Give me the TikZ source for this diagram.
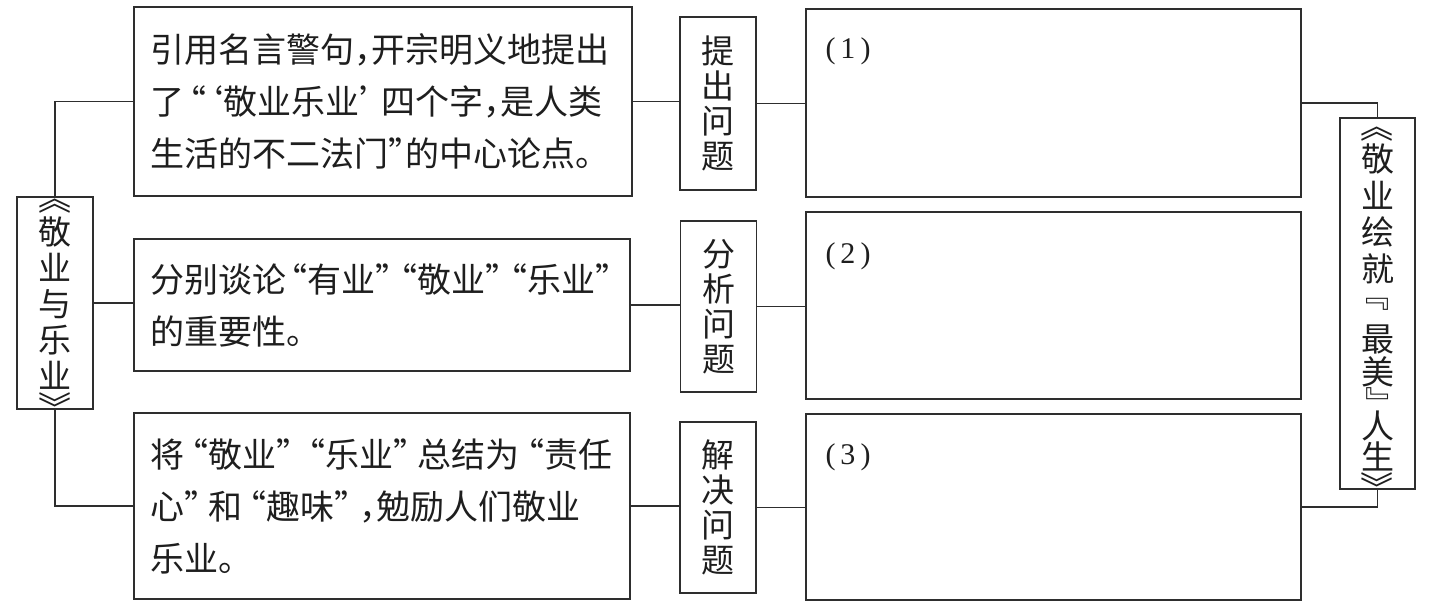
\documentclass[tikz,border=0pt]{standalone}
\usepackage{fontspec}
\usepackage{graphicx}
\setmainfont{Noto Sans CJK SC}
\newfontfamily\hfont[RawFeature=+halt]{Noto Sans CJK SC}
\newfontfamily\numfont{Liberation Serif}
\definecolor{ln}{HTML}{2E2E2E}
\definecolor{tx}{HTML}{1E1E1E}
\newcommand{\LQ}{\kern.12em“}
\newcommand{\RQ}{”\kern.12em}
\newcommand{\LQw}{\kern.22em“}
\newcommand{\RQw}{”\kern.22em}
% vertical brackets: glyph sits from about 0.5pt to 14.5pt above the baseline
\newcommand{\vob}[1][15pt]{\raisebox{\dimexpr\depth-0.8pt\relax}[#1][0pt]{\rotatebox[origin=c]{-90}{《}}}
\newcommand{\vcb}{\raisebox{\dimexpr\depth-17.3pt\relax}[15pt][0pt]{\rotatebox[origin=c]{-90}{》}}}
\newcommand{\vocb}{\raisebox{\dimexpr\depth-0.8pt\relax}[13pt][0pt]{\rotatebox[origin=c]{-90}{『}\kern.18em}}
\newcommand{\vccb}{\raisebox{\dimexpr\depth-19.3pt\relax}[13pt][0pt]{\rotatebox[origin=c]{-90}{』}}}
\begin{document}
\begin{tikzpicture}[x=1pt,y=-1pt,
  box/.style={draw=ln, line width=1.6pt, inner sep=0pt, rectangle, text=tx},
  txtbox/.style={box, align=left, inner xsep=16pt, font=\hfont\fontsize{34}{52}\selectfont},
  vbox/.style={box, align=center, font=\fontsize{33}{36}\selectfont},
  stepbox/.style={box, align=center, minimum width=76pt, font=\fontsize{33}{35}\selectfont},
  emptybox/.style={box, minimum width=495pt},
  num/.style={text=tx, inner sep=0pt, font=\numfont\fontsize{30}{30}\selectfont},
  conn/.style={draw=ln, line width=1.4pt}]
\useasboundingbox[fill=white] (0,0) rectangle (1437,610);

% left title box
\node[vbox, minimum width=76pt, minimum height=212pt] (L) at (55,303)
  {\vob\\[-6pt]敬\\业\\与\\乐\\业\\[-17pt]\vcb};

% left text boxes
\node[txtbox, text width=466pt, minimum height=189pt] (B1) at (383,101.5)
  {引用名言警句，开宗明义地提出\\了\kern.15em“‘敬业乐业’\kern.15em 四个字，是人类\\生活的不二法门”的中心论点。};
\node[txtbox, text width=464pt, minimum height=132pt] (B2) at (382,305)
  {分别谈论{\LQ}有业{\RQ}{\LQ}敬业{\RQ}{\LQ}乐业”\\的重要性。};
\node[txtbox, text width=464pt, minimum height=186pt] (B3) at (382,506)
  {将{\LQw}敬业{\RQw}{\LQw}乐业{\RQw}总结为{\LQw}责任\\心{\RQw}和{\LQw}趣味{\RQw}，勉励人们敬业\\乐业。};

% small step boxes
\node[stepbox, minimum height=173pt] (S1) at (718,103.5) {提\\出\\问\\题};
\node[stepbox, minimum height=171pt] (S2) at (718.5,306.5) {分\\析\\问\\题};
\node[stepbox, minimum height=171pt] (S3) at (718,507.5) {解\\决\\问\\题};

% right answer boxes
\node[emptybox, minimum height=188pt] (R1) at (1053.5,103) {};
\node[emptybox, minimum height=187pt] (R2) at (1053.5,305.5) {};
\node[emptybox, minimum height=186pt] (R3) at (1053.5,507) {};
\node[num] (N1) at (848,51) {(\kern5pt1\kern5pt)};
\node[num] (N2) at (848,256) {(\kern5pt2\kern5pt)};
\node[num] (N3) at (848,457) {(\kern5pt3\kern5pt)};

% right title box
\node[vbox, font=\fontsize{33}{36.5}\selectfont, minimum width=75pt, minimum height=371pt] (T) at (1377.5,303.5)
  {\vob[21.5pt]\\[-6.5pt]敬\\业\\绘\\就\\[-7.5pt]\vocb\\[4.5pt]最\\[-3.5pt]美\\[-21pt]\vccb\\[2pt]人\\[-5.5pt]生\\[-19pt]\vcb};

% connectors
\draw[conn] (L.north) |- (B1.west);
\draw[conn] (L.east) -- (L.east -| B2.west);
\draw[conn] (L.south) |- (B3.west);
\draw[conn] (B1.east) -- (B1.east -| S1.west);
\draw[conn] (S1.east) -- (S1.east -| R1.west);
\draw[conn] (B2.east) -- (B2.east -| S2.west);
\draw[conn] (S2.east) -- (S2.east -| R2.west);
\draw[conn] (B3.east) -- (B3.east -| S3.west);
\draw[conn] (S3.east) -- (S3.east -| R3.west);
\draw[conn] (R1.east) -| (T.north);
\draw[conn] (R3.east) -| (T.south);
\end{tikzpicture}
\end{document}
